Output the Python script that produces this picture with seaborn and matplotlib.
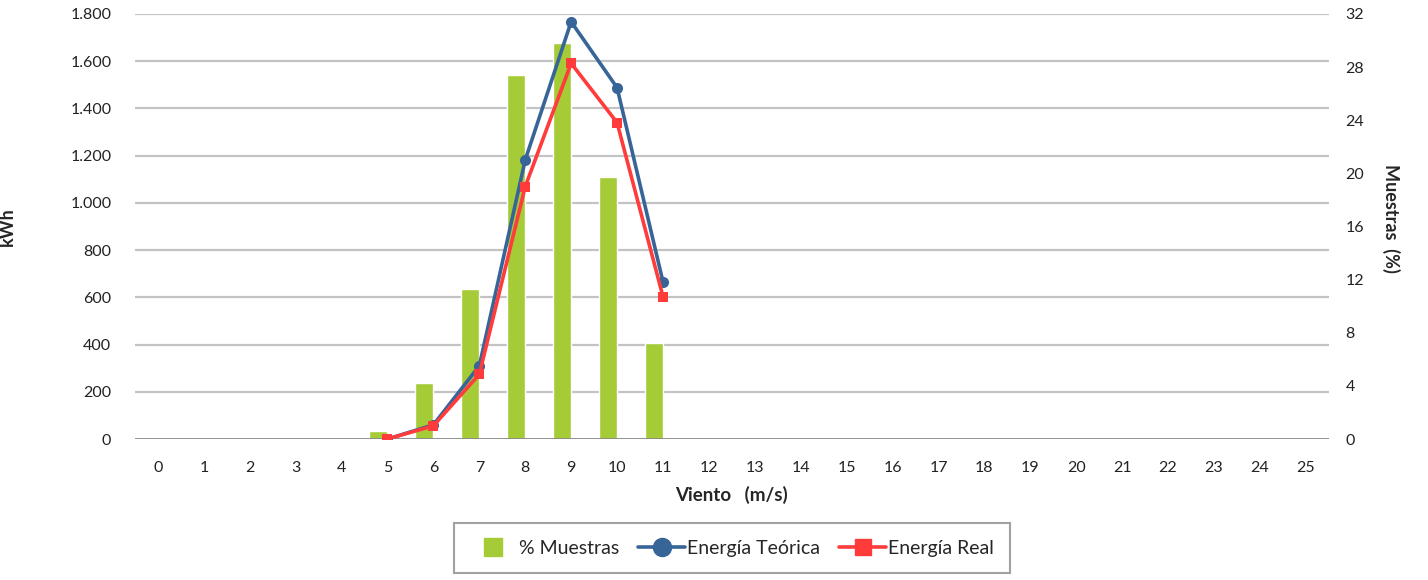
import numpy as np
import pandas as pd
import matplotlib
matplotlib.use("Agg")
import matplotlib.pyplot as plt
from matplotlib.lines import Line2D
import seaborn as sns

# data
viento = list(range(26))
muestras = [0, 0, 0, 0, 0, 0.6, 4.2, 11.3, 27.4, 29.8, 19.7, 7.2,
            0, 0, 0, 0, 0, 0, 0, 0, 0, 0, 0, 0, 0, 0]
viento_energia = [5, 6, 7, 8, 9, 10, 11]
energia_teorica = [0, 60, 310, 1182, 1767, 1488, 666]
energia_real = [0, 56, 274, 1069, 1591, 1340, 603]

kwh_ticks = list(range(0, 1801, 200))
pct_ticks = list(range(0, 33, 4))

GREEN = "#A5CC37"
BLUE = "#386597"
RED = "#FF3B3B"

sns.set_theme(style="white")
plt.rcParams["font.family"] = ["Lato", "DejaVu Sans"]

fig = plt.figure(figsize=(14.28, 5.8), dpi=100)
ax_bar = fig.add_axes([0.0945, 0.2431, 0.836, 0.7328])
ax_line = ax_bar.twinx()

# bars (secondary axis in the original) drawn underneath
df_bar = pd.DataFrame({"x": [str(v) for v in viento], "y": muestras, "serie": "% Muestras"})
df_pad = pd.DataFrame({"x": [str(v) for v in viento], "y": [0] * len(viento), "serie": "_pad"})
sns.barplot(data=pd.concat([df_bar, df_pad]), x="x", y="y", hue="serie",
            hue_order=["% Muestras", "_pad"], palette=[GREEN, GREEN],
            order=[str(v) for v in viento], width=0.8, ax=ax_bar,
            legend=False, errorbar=None, saturation=1)
ax_bar.set_ylim(0, 32)
ax_bar.set_xlim(-0.5, 25.5)
for t in kwh_ticks[1:]:
    ax_bar.axhline(t * 32 / 1800, color="#c3c3c3", lw=1.6, zorder=0)
ax_bar.axhline(0, color="#868686", lw=2, zorder=3)
ax_bar.set_yticks(pct_ticks)
ax_bar.yaxis.tick_right()
ax_bar.yaxis.set_label_position("right")
ax_bar.tick_params(axis="y", length=0, pad=12, labelsize=11.5, labelcolor="#222222")
ax_bar.tick_params(axis="x", length=0, pad=16, labelsize=11.5, labelcolor="#222222")
ax_bar.set_xlabel("Viento   (m/s)", fontsize=13.5, fontweight="bold", labelpad=8)
ax_bar.set_ylabel("Muestras  (%)", fontsize=13, fontweight="bold", rotation=-90)
ax_bar.yaxis.set_label_coords(1.0595, 0.52)

# energy lines on top, kWh axis on the left
sns.lineplot(x=viento_energia, y=energia_teorica, ax=ax_line, color=BLUE, lw=2.6,
             marker="o", markersize=8, markeredgewidth=0)
sns.lineplot(x=viento_energia, y=energia_real, ax=ax_line, color=RED, lw=2.6,
             marker="s", markersize=7.5, markeredgewidth=0)
ax_line.set_ylim(0, 1800)
ax_line.set_xlim(-0.5, 25.5)
ax_line.set_yticks(kwh_ticks)
ax_line.set_yticklabels([f"{t:,}".replace(",", ".") for t in kwh_ticks])
ax_line.yaxis.tick_left()
ax_line.yaxis.set_label_position("left")
ax_line.tick_params(axis="y", length=0, pad=17, labelsize=11.5, labelcolor="#222222")
ax_line.set_ylabel("kWh", fontsize=13, fontweight="bold")
ax_line.yaxis.set_label_coords(-0.0997, 0.5)

for a in (ax_bar, ax_line):
    for s in a.spines.values():
        s.set_visible(False)

handles = [
    Line2D([], [], color=GREEN, marker="s", linestyle="none", markersize=13),
    Line2D([], [], color=BLUE, lw=2.6, marker="o", markersize=13),
    Line2D([], [], color=RED, lw=2.6, marker="s", markersize=12),
]
labels = ["% Muestras", "Energía Teórica", "Energía Real"]
leg = fig.legend(handles, labels, loc="center", bbox_to_anchor=(0.5126, 0.055), ncol=3,
                 fontsize=14, frameon=True, fancybox=False, borderpad=0.85,
                 handlelength=2.4, handletextpad=0.1, columnspacing=1.0,
                 borderaxespad=0)
leg.get_frame().set_edgecolor("#8a8a8a")
leg.get_frame().set_linewidth(1.5)

fig.savefig("out.png", dpi=100)
